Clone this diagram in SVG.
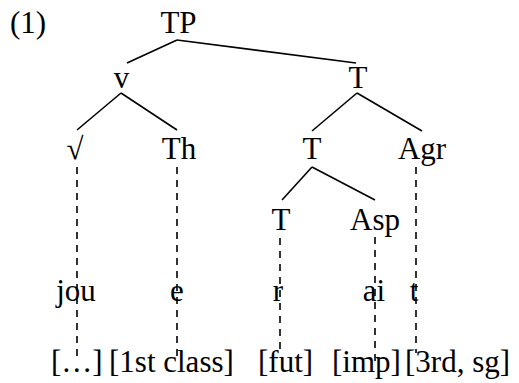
<svg xmlns="http://www.w3.org/2000/svg" width="519" height="383" viewBox="0 0 519 383">
<style>
text{font-family:"Liberation Serif","Times New Roman",serif;font-size:31px;fill:#000}
.n{text-anchor:middle}
.e{stroke:#000;stroke-width:1.6;fill:none}
.d{stroke:#000;stroke-width:1.6;fill:none;stroke-dasharray:7,6}
</style>
<rect width="519" height="383" fill="#fff"/>
<g id="connectors">
<line class="e" x1="177" y1="40" x2="127" y2="63"/>
<line class="e" x1="177" y1="40" x2="356" y2="63"/>
<line class="e" x1="121" y1="93" x2="77" y2="130"/>
<line class="e" x1="121" y1="93" x2="177" y2="130"/>
<line class="e" x1="357" y1="93" x2="312" y2="131"/>
<line class="e" x1="357" y1="93" x2="422" y2="131"/>
<line class="e" x1="312" y1="167" x2="282" y2="200"/>
<line class="e" x1="312" y1="167" x2="375" y2="200"/>
<line class="d" x1="77" y1="167" x2="77" y2="362"/>
<line class="d" x1="177" y1="167" x2="177" y2="362"/>
<line class="d" x1="280" y1="238" x2="280" y2="350"/>
<line class="d" x1="375" y1="237" x2="375" y2="362"/>
<line class="d" x1="416" y1="167" x2="416" y2="353"/>
</g>
<text x="10" y="33">(1)</text>
<g id="TP"><text class="n" x="178.5" y="33">TP</text></g>
<g id="v"><text class="n" x="121.5" y="88">v</text></g>
<g id="T1"><text class="n" x="358" y="88">T</text></g>
<g id="root"><text class="n" x="75" y="159">√</text></g>
<g id="Th"><text class="n" x="179" y="159">Th</text></g>
<g id="T2"><text class="n" x="312" y="159">T</text></g>
<g id="Agr"><text class="n" x="422" y="159">Agr</text></g>
<g id="T3"><text class="n" x="281" y="230">T</text></g>
<g id="Asp"><text class="n" x="375" y="230">Asp</text></g>
<g id="jou"><text class="n" x="76" y="301">jou</text></g>
<g id="e"><text class="n" x="177" y="301">e</text></g>
<g id="r"><text class="n" x="278" y="301">r</text></g>
<g id="ai"><text class="n" x="374" y="301">ai</text></g>
<g id="t"><text class="n" x="414" y="301">t</text></g>
<g id="f1"><text x="51" y="372">[…]</text></g>
<g id="f2"><text x="109" y="372">[1st class]</text></g>
<g id="f3"><text x="258" y="372">[fut]</text></g>
<g id="f4"><text x="332" y="372">[imp]</text></g>
<g id="f5"><text x="405" y="372">[3rd, sg]</text></g>
</svg>
